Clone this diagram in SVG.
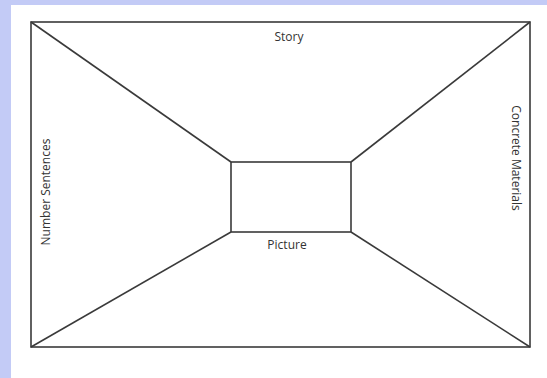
<svg xmlns="http://www.w3.org/2000/svg" width="547" height="378" viewBox="0 0 547 378">
<style>
.ln{stroke:#3a3a3a;stroke-width:1.6;fill:none}
.t{font-family:"Open Sans","DejaVu Sans",sans-serif;font-size:12px;fill:#333;text-anchor:middle}
</style>
<rect x="0" y="0" width="547" height="378" fill="#c3cbf6"/>
<rect x="11" y="5" width="536" height="373" fill="#ffffff"/>
<g id="connectors">
<line class="ln" x1="31" y1="22" x2="231" y2="162"/>
<line class="ln" x1="530" y1="22" x2="351" y2="162"/>
<line class="ln" x1="31" y1="347" x2="231" y2="232"/>
<line class="ln" x1="530" y1="347" x2="351" y2="232"/>
</g>
<g id="outer">
<rect class="ln" x="31" y="22" width="499" height="325"/>
</g>
<g id="picture">
<rect class="ln" x="231" y="162" width="120" height="70"/>
<text class="t" x="287" y="249">Picture</text>
</g>
<g id="story">
<text class="t" x="289" y="41">Story</text>
</g>
<g id="number-sentences">
<text class="t" transform="translate(50,192) rotate(-90)">Number Sentences</text>
</g>
<g id="concrete-materials">
<text class="t" transform="translate(512,158) rotate(90)">Concrete Materials</text>
</g>
</svg>
